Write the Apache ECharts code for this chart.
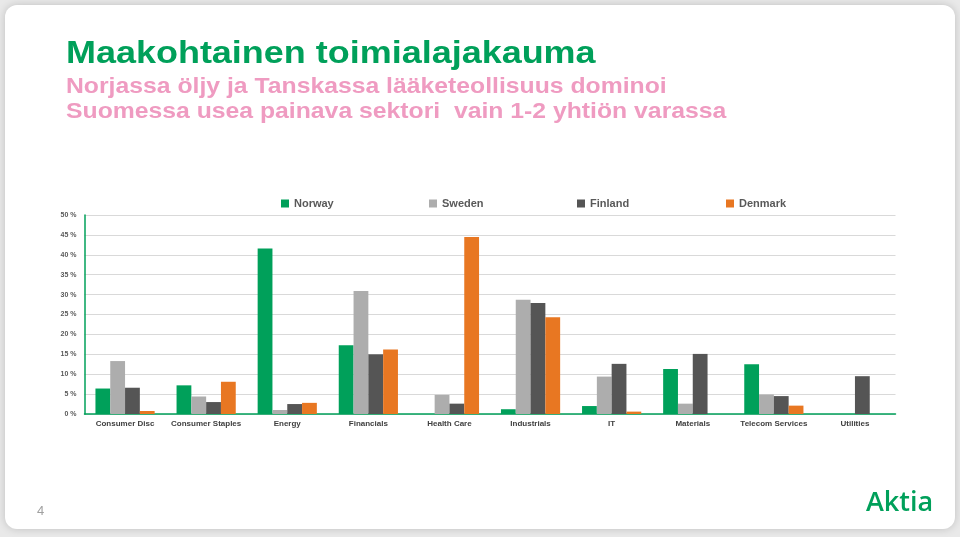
<!DOCTYPE html>
<html><head><meta charset="utf-8">
<script src="https://cdn.jsdelivr.net/npm/echarts@6/dist/echarts.min.js"></script>
<style>html,body{margin:0;padding:0;background:#e9e9e9;}#c{width:960px;height:537px;}</style>
</head><body><div id="c"></div>
<script>
const categories = ['Consumer Disc','Consumer Staples','Energy','Financials','Health Care','Industrials','IT','Materials','Telecom Services','Utilities'];
const norway  = [6.4, 7.2, 41.6, 17.3, 0, 1.2, 2.0, 11.3, 12.5, 0];
const sweden  = [13.3, 4.4, 1.0, 30.9, 4.8, 28.7, 9.4, 2.6, 4.9, 0];
const finland = [6.6, 3.0, 2.5, 15.0, 2.6, 27.9, 12.6, 15.1, 4.5, 9.5];
const denmark = [0.75, 8.1, 2.8, 16.2, 44.5, 24.3, 0.6, 0, 2.1, 0];
const seriesNames = ['Norway','Sweden','Finland','Denmark'];
const colors = ['#00A05A','#ADADAD','#555555','#E87722'];

const chart = echarts.init(document.getElementById('c'), null, {renderer:'canvas'});
const data = [norway, sweden, finland, denmark];
const legendLefts = [281, 429, 577, 726];
const FF = '"Liberation Sans", Arial, sans-serif';
chart.setOption({
  animation:false,
  backgroundColor:'#e9e9e9',
  graphic:[
    {type:'rect', shape:{x:5,y:5,width:950,height:524,r:12}, style:{fill:'#ffffff', shadowBlur:8, shadowColor:'rgba(0,0,0,0.18)'}, z:-10},
    {type:'text', x:66, y:39, scaleX:1.16, style:{text:'Maakohtainen toimialajakauma', fill:'#00A05A', font:'bold 31px '+FF}},
    {type:'text', x:66, y:76, scaleX:1.125, style:{text:'Norjassa öljy ja Tanskassa lääketeollisuus dominoi', fill:'#EF9BC1', font:'bold 22px '+FF}},
    {type:'text', x:66, y:101, scaleX:1.125, style:{text:'Suomessa usea painava sektori  vain 1-2 yhtiön varassa', fill:'#EF9BC1', font:'bold 22px '+FF}},
    {type:'text', x:37, y:505, style:{text:'4', fill:'#a0a0a0', font:'13px '+FF}},
    {type:'text', x:866, y:490, style:{text:'Aktia', fill:'#00A05A', font:'600 27px "Open Sans", "Noto Sans", sans-serif'}}
  ],
  legend: seriesNames.map((n,i)=>({
    data:[n], left:legendLefts[i], top:198, padding:0, itemWidth:8, itemHeight:8, icon:'rect',
    textStyle:{fontSize:11, fontWeight:'bold', color:'#595959', fontFamily:FF}
  })),
  grid:{left:84.5, right:64.5, top:215, bottom:123},
  xAxis:{type:'category', data:categories,
    axisLine:{show:true, lineStyle:{color:'#00A05A', width:1.5}},
    axisTick:{show:false},
    axisLabel:{interval:0, margin:6, fontSize:8, fontWeight:'bold', color:'#404040', fontFamily:FF}},
  yAxis:{type:'value', min:0, max:50, interval:5,
    axisLine:{show:true, lineStyle:{color:'#00A05A', width:1.5}},
    axisTick:{show:false},
    splitLine:{lineStyle:{color:'#d9d9d9', width:1}},
    axisLabel:{formatter:'{value} %', margin:8, fontSize:7, fontWeight:'bold', color:'#595959', fontFamily:FF}},
  series: seriesNames.map((n,i)=>({
    name:n, type:'bar', data:data[i], barGap:'0%', barCategoryGap:'27%',
    itemStyle:{color:colors[i]}
  }))
});
</script></body></html>
